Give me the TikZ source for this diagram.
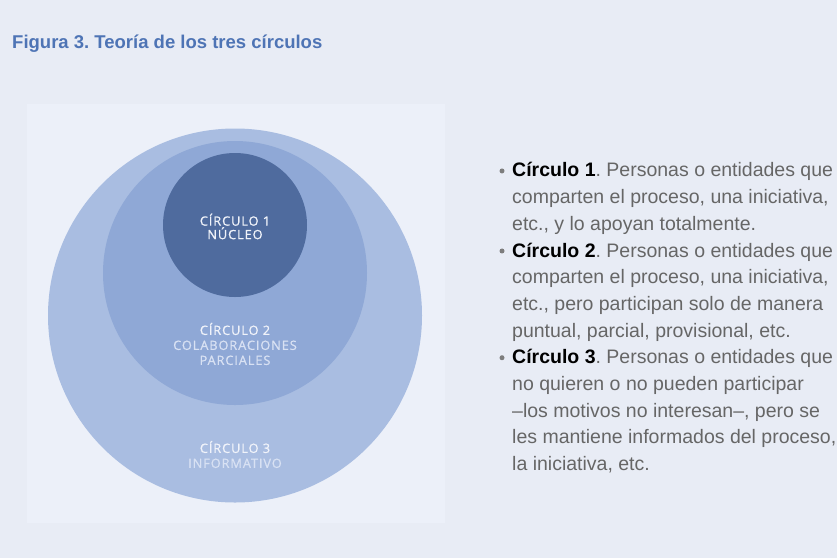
\documentclass[tikz,border=0pt]{standalone}
\usepackage{fontspec}
\setmainfont{Liberation Sans}
\newfontfamily\ringfont{Open Sans}[LetterSpace=7, FakeBold=1]
\definecolor{pagebg}{RGB}{232,236,245}
\definecolor{panelbg}{RGB}{236,240,249}
\definecolor{ringthree}{RGB}{169,189,225}
\definecolor{ringtwo}{RGB}{143,168,214}
\definecolor{ringone}{RGB}{79,107,158}
\definecolor{titleblue}{RGB}{78,116,181}
\definecolor{bodygray}{RGB}{102,102,102}
\definecolor{labwhite}{RGB}{240,243,250}
\definecolor{lablight}{RGB}{216,225,243}
\begin{document}
\begin{tikzpicture}[x=1pt, y=-1pt,
    ring/.style={circle, inner sep=0pt, draw=none},
    ringlabel/.style={align=center, inner sep=0pt, text=labwhite,
      font=\ringfont\fontsize{12.8}{15}\selectfont},
    itemtext/.style={anchor=base west, align=left, inner sep=0pt, text=bodygray,
      font=\fontsize{19.5}{26.67}\selectfont\frenchspacing},
    dot/.style={circle, fill=bodygray!85, inner sep=0pt, minimum size=5pt}]
  \useasboundingbox (0,0) rectangle (837,558);
  \fill[pagebg] (0,0) rectangle (837,558);
  \fill[panelbg] (27,104) rectangle (445,523);

  % title
  \node[anchor=base west, inner sep=0pt, text=titleblue,
    font=\bfseries\fontsize{18.5}{22}\selectfont\frenchspacing] (title) at (12,48)
    {Figura 3. Teoría de los tres círculos};

  % the three circles
  \node[ring, fill=ringthree, minimum size=374pt] (c3) at (235,315.5) {};
  \node[ring, fill=ringtwo, minimum size=264pt] (c2) at (235,273) {};
  \node[ring, fill=ringone, minimum size=144pt] (c1) at (235,225) {};

  \node[ringlabel, font=\ringfont\fontsize{12.8}{13.5}\selectfont] (l1) at (235,226.5) {CÍRCULO 1\\NÚCLEO};
  \node[ringlabel] (l2) at (235,344) {CÍRCULO 2\\\textcolor{lablight}{COLABORACIONES}\\\textcolor{lablight}{PARCIALES}};
  \node[ringlabel] (l3) at (235,454.5) {CÍRCULO 3\\\textcolor{lablight}{INFORMATIVO}};

  % list on the right (base = last line)
  \node[itemtext] (item1) at (512,230.3)
    {{\bfseries\color{black}Círculo 1}. Personas o entidades que\\
     comparten el proceso, una iniciativa,\\
     etc., y lo apoyan totalmente.};
  \node[itemtext] (item2) at (512,337)
    {{\bfseries\color{black}Círculo 2}. Personas o entidades que\\
     comparten el proceso, una iniciativa,\\
     etc., pero participan solo de manera\\
     puntual, parcial, provisional, etc.};
  \node[itemtext] (item3) at (512,470.4)
    {{\bfseries\color{black}Círculo 3}. Personas o entidades que\\
     no quieren o no pueden participar\\
     –los motivos no interesan–, pero se\\
     les mantiene informados del proceso,\\
     la iniciativa, etc.};

  \foreach \i in {1,2,3}
    \node[dot] (b\i) at ([xshift=-10pt,yshift=-8.5pt]item\i.north west) {};
\end{tikzpicture}
\end{document}
